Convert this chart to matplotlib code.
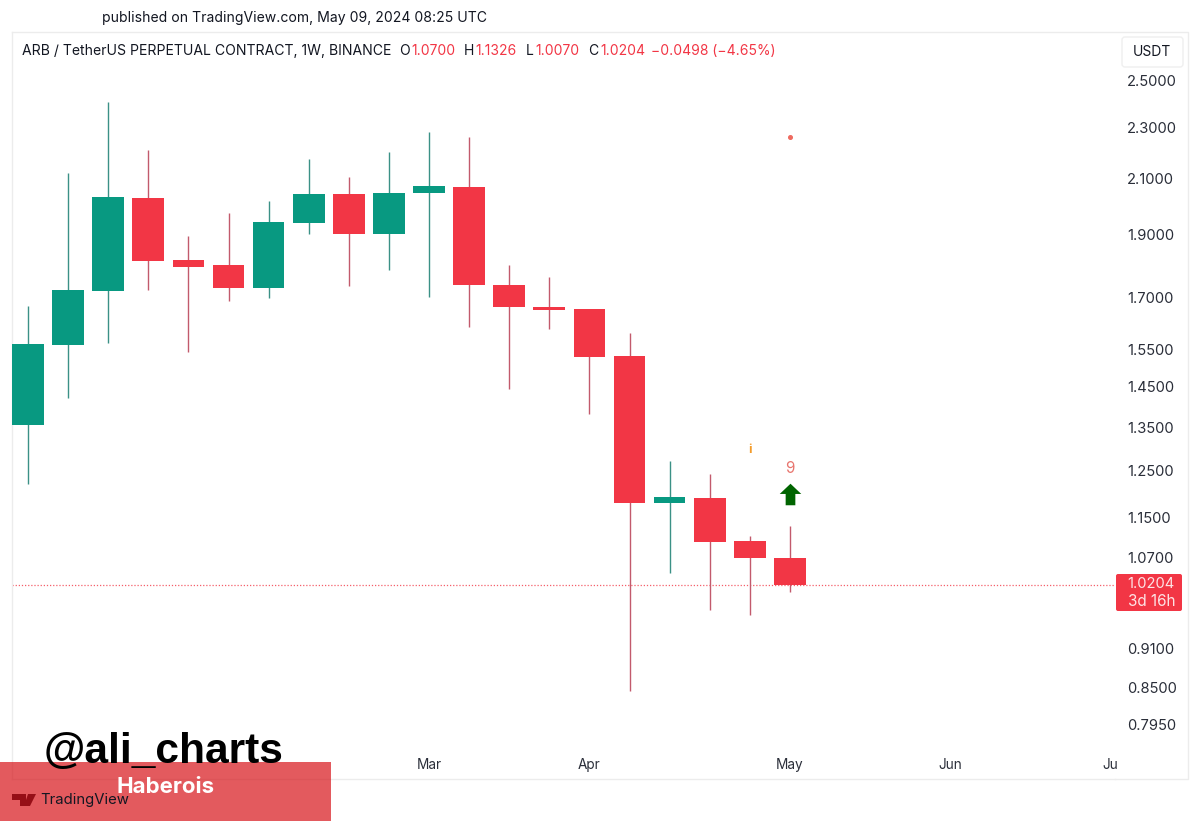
import matplotlib
matplotlib.use('Agg')

import matplotlib.pyplot as plt
from matplotlib.patches import Rectangle, FancyBboxPatch, Polygon
from matplotlib.path import Path

plt.rcParams['font.family'] = ['Inter', 'DejaVu Sans']

# weekly candles
opens = [1.356, 1.563, 1.721, 2.030, 1.818, 1.802, 1.730, 1.942, 2.045, 1.904,
         2.048, 2.070, 1.739, 1.672, 1.666, 1.533, 1.180, 1.190, 1.103, 1.0700]
closes = [1.566, 1.724, 2.034, 1.815, 1.795, 1.730, 1.945, 2.045, 1.904, 2.048,
          2.074, 1.739, 1.672, 1.664, 1.530, 1.180, 1.192, 1.101, 1.070, 1.0204]
highs = [1.675, 2.122, 2.408, 2.211, 1.897, 1.977, 2.019, 2.176, 2.108, 2.203,
         2.283, 2.263, 1.802, 1.764, 1.664, 1.597, 1.271, 1.242, 1.112, 1.1326]
lows = [1.220, 1.422, 1.568, 1.724, 1.544, 1.690, 1.699, 1.904, 1.736, 1.786,
        1.702, 1.614, 1.445, 1.608, 1.382, 0.844, 1.042, 0.975, 0.967, 1.0070]

price_ticks = [2.5, 2.3, 2.1, 1.9, 1.7, 1.55, 1.45, 1.35, 1.25, 1.15, 1.07, 0.91, 0.85, 0.795]
month_pos = [10, 14, 19, 23, 27]
month_labels = ["Mar", "Apr", "May", "Jun", "Ju"]
last_price = 1.0204

UP = "#089981"
DOWN = "#F23645"
UP_WICK = "#3b9186"
DOWN_WICK = "#c25a6c"
DARK = "#131722"
FRAME = "#ececec"

W, H = 1200, 821
fig = plt.figure(figsize=(W / 100, H / 100), dpi=100, facecolor="white")

# chart area is x 12..1115, y 32..779 in picture pixels
ax = fig.add_axes([12 / W, 1 - 779 / H, (1115 - 12) / W, (779 - 32) / H])
ax.set_yscale("log")
ax.set_xlim(-0.399, 27.107)
ax.set_ylim(0.722, 2.726)

x = list(range(len(opens)))
wick_cols = [UP_WICK if c >= o else DOWN_WICK for o, c in zip(opens, closes)]
body_cols = [UP if c >= o else DOWN for o, c in zip(opens, closes)]
ax.vlines(x, lows, highs, colors=wick_cols, lw=1.0, zorder=2)
bottoms = [min(o, c) for o, c in zip(opens, closes)]
heights = [abs(c - o) for o, c in zip(opens, closes)]
ax.bar(x, heights, bottom=bottoms, width=0.79, color=body_cols, zorder=3)

ax.axhline(last_price, color=DOWN, lw=0.9, ls=(0, (1, 1.5)), alpha=0.8, zorder=1)

# signals above the last candles
ax.plot([19], [2.263], "o", color="#ee6a5f", ms=2.6, zorder=4)
ax.text(18, 1.297, "i", color="#f39c2c", fontsize=9, fontweight="bold", ha="center", va="center")
ax.text(19, 1.255, "9", color="#e8756e", fontsize=11, ha="center", va="center")
arrow = Path([(0, 1), (1, 0.05), (0.45, 0.05), (0.45, -1), (-0.45, -1), (-0.45, 0.05), (-1, 0.05), (0, 1)])
ax.plot([19], [1.199], marker=arrow, color="#006400", ms=15.5, mew=0, zorder=4)

ax.minorticks_off()
ax.yaxis.tick_right()
ax.set_yticks(price_ticks)
ax.set_yticklabels(["%.4f" % p for p in price_ticks])
ax.tick_params(axis="y", length=0, pad=8.6, labelsize=10.6, labelcolor="#2a2e39")
ax.set_xticks(month_pos)
ax.set_xticklabels(month_labels)
ax.tick_params(axis="x", length=0, pad=-15, labelsize=9.8, labelcolor="#2a2e39")
for s in ["top", "right"]:
    ax.spines[s].set_visible(False)
for s in ["left", "bottom"]:
    ax.spines[s].set_color(FRAME)
    ax.spines[s].set_linewidth(1)

# page furniture, placed in picture pixels
ov = fig.add_axes([0, 0, 1, 1], facecolor="none")
ov.set_xlim(0, W)
ov.set_ylim(H, 0)
ov.axis("off")
ov.plot([12, 1188, 1188, 1115], [32, 32, 779, 779], color=FRAME, lw=1)

ov.text(102, 18, "published on TradingView.com, May 09, 2024 08:25 UTC", fontsize=10.1, color=DARK, va="center")
ov.text(22, 51, "ARB / TetherUS PERPETUAL CONTRACT, 1W, BINANCE", fontsize=10.1, color=DARK, va="center")
for lx, lab, vx, val in [(399, "O", 411, "1.0700"), (464, "H", 475, "1.1326"),
                         (526, "L", 535, "1.0070"), (588, "C", 600, "1.0204")]:
    ov.text(lx, 51, lab, fontsize=10, color=DARK, va="center")
    ov.text(vx, 51, val, fontsize=10, color=DOWN, va="center")
ov.text(651, 51, "\u22120.0498 (\u22124.65%)", fontsize=10, color=DOWN, va="center")

ov.add_patch(FancyBboxPatch((1124, 39), 57, 26, boxstyle="round,pad=2,rounding_size=3", fc="white", ec="#efefef", lw=1))
ov.text(1152, 52, "USDT", fontsize=10, color=DARK, ha="center", va="center")

ov.add_patch(FancyBboxPatch((1118, 576), 62, 33, boxstyle="round,pad=2,rounding_size=2", fc=DOWN, ec="none"))
ov.text(1175, 584, "1.0204", fontsize=10.6, color="#fde3e5", ha="right", va="center")
ov.text(1175, 601, "3d 16h", fontsize=11, color="#fde3e5", ha="right", va="center")

ov.text(44, 763, "@ali_charts", fontsize=30.6, fontweight="bold", family="Liberation Sans", color="black", va="baseline")
ov.add_patch(Polygon([(12, 794), (26, 794), (26, 806), (20, 806), (20, 800), (12, 800)], fc="#131722"))
ov.add_patch(Polygon([(28, 794), (36, 794), (30, 806), (24, 806)], fc="#131722"))
ov.text(40, 800, "TradingView", fontsize=10.7, color="#131722", va="center")
ov.add_patch(Rectangle((0, 762), 331, 59, fc="#d60c12", alpha=0.68, ec="none"))
ov.text(166, 787, "Haberois", fontsize=16, fontweight="bold", color="white", ha="center", va="center")

fig.savefig("out.png", dpi=100)
